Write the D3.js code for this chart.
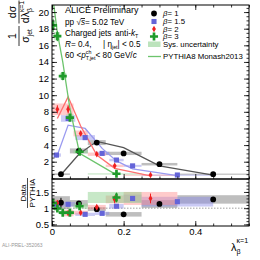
<!DOCTYPE html>
<html>
<head>
<meta charset="utf-8">
<script src="https://cdn.jsdelivr.net/npm/d3@7"></script>
<style>
body { margin: 0; background: #fff; }
svg { display: block; font-family: "Liberation Sans", Arial, sans-serif; }
</style>
</head>
<body>
<div id="chart"></div>
<script>
// values
const xTicks = [0, 0.2, 0.4];
const yTicks = [2, 4, 6, 8, 10, 12, 14, 16, 18, 20];
const ratioTicks = [0.5, 1, 1.5];

// beta = 1
const b1Lambda = [0.025, 0.075, 0.125, 0.2, 0.3, 0.45];
const b1Edges = [0, 0.05, 0.1, 0.15, 0.25, 0.35, 0.55];
const b1Value = [0.5, 3.3, 4.3, 3.0, 1.7, 0.5];
const b1Sys = [0.1, 0.3, 0.3, 0.2, 0.15, 0.07];
const b1Pythia = [0.43, 2.9, 4.45, 3.7, 1.5, 0.39];
const b1Ratio = [1.17, 1.15, 0.97, 0.81, 1.13, 1.27];
const b1RatioSys = [0.2, 0.1, 0.06, 0.07, 0.12, 0.13];
const b1RatioStat = [0.15, 0.05, 0.04, 0.03, 0.04, 0.06];

// beta = 1.5
const b15Lambda = [0.0125, 0.045, 0.0925, 0.14, 0.18, 0.225, 0.35];
const b15Edges = [0, 0.025, 0.065, 0.12, 0.16, 0.2, 0.25, 0.45];
const b15Value = [2.8, 7.2, 4.9, 3.0, 2.2, 1.5, 0.4];
const b15Sys = [0.2, 0.4, 0.3, 0.2, 0.15, 0.12, 0.05];
const b15Pythia = [2.5, 6.4, 6.0, 3.6, 2.1, 1.15, 0.33];
const b15Ratio = [1.12, 1.12, 0.81, 0.84, 1.06, 1.3, 1.2];
const b15RatioSys = [0.1, 0.07, 0.05, 0.05, 0.07, 0.12, 0.15];
const b15RatioStat = [0.04, 0.03, 0.02, 0.02, 0.03, 0.04, 0.05];

// beta = 2
const b2Lambda = [0.015, 0.045, 0.08, 0.125, 0.175, 0.275];
const b2Edges = [0, 0.03, 0.06, 0.1, 0.15, 0.2, 0.35];
const b2Value = [8.3, 8.3, 5.4, 2.9, 1.5, 0.4];
const b2Sys = [0.7, 0.7, 0.35, 0.2, 0.15, 0.05];
const b2Pythia = [7.2, 9.8, 6.3, 2.8, 1.2, 0.3];
const b2Ratio = [1.16, 0.85, 0.86, 1.03, 1.27, 1.3];
const b2RatioSys = [0.1, 0.1, 0.06, 0.07, 0.12, 0.2];
const b2RatioStat = [0.08, 0.05, 0.04, 0.07, 0.12, 0.15];

// beta = 3
const b3Lambda = [0.003, 0.015, 0.03, 0.05, 0.077, 0.18];
const b3Edges = [0, 0.006, 0.022, 0.04, 0.06, 0.1, 0.25];
const b3Value = [18.4, 17.1, 12.3, 7.3, 3.2, 0.55];
const b3Sys = [0.5, 0.5, 0.4, 0.4, 0.2, 0.05];
const b3Stat = [0.8, 0.6, 0.5, 0.3, 0.2, 0.05];
const b3Pythia = [21.5, 17.5, 14.0, 8.4, 3.0, 0.41];
const b3Ratio = [1.16, 0.99, 0.86, 0.86, 1.06, 1.33];
const b3RatioSys = [0.08, 0.07, 0.06, 0.06, 0.08, 0.17];
const b3RatioStat = [0.05, 0.04, 0.03, 0.03, 0.05, 0.15];

const series = [
  { label: "1", lam: b1Lambda, edges: b1Edges, val: b1Value, sys: b1Sys, stat: b1Sys.map(() => 0), py: b1Pythia, r: b1Ratio, rSys: b1RatioSys, rStat: b1RatioStat,
    mark: d3.symbolCircle, size: 26, color: "#000", line: "#555", box: "#888", boxOp: 0.55 },
  { label: "1.5", lam: b15Lambda, edges: b15Edges, val: b15Value, sys: b15Sys, stat: b15Sys.map(() => 0), py: b15Pythia, r: b15Ratio, rSys: b15RatioSys, rStat: b15RatioStat,
    mark: d3.symbolSquare, size: 26, color: "#6464d8", line: "#9a9af0", box: "#8a8ae6", boxOp: 0.45 },
  { label: "2", lam: b2Lambda, edges: b2Edges, val: b2Value, sys: b2Sys, stat: b2Sys.map(v => v * 0.7), py: b2Pythia, r: b2Ratio, rSys: b2RatioSys, rStat: b2RatioStat,
    mark: d3.symbolDiamond, size: 13, color: "#f02020", line: "#ff7070", box: "#ff8c8c", boxOp: 0.45 },
  { label: "3", lam: b3Lambda, edges: b3Edges, val: b3Value, sys: b3Sys, stat: b3Stat, py: b3Pythia, r: b3Ratio, rSys: b3RatioSys, rStat: b3RatioStat,
    mark: d3.symbolCross, size: 36, color: "#1f9a2a", line: "#6cc46c", box: "#8fd18f", boxOp: 0.5 }
];

const W = 260, H = 260;
const padL = 52, padR = 249, padT = 5, padMid = 179, padB = 226;

const x = d3.scaleLinear().domain([0, 0.55]).range([padL, padR]);
const y = d3.scaleLinear().domain([-0.08, 20.85]).range([padMid, padT]);
const yr = d3.scaleLinear().domain([0.45, 1.9]).range([padB, padMid]);

const svg = d3.select("#chart").append("svg").attr("width", W).attr("height", H);

const defs = svg.append("defs");
defs.append("clipPath").attr("id", "clipMain").append("rect")
  .attr("x", padL).attr("y", padT).attr("width", padR - padL).attr("height", padMid - padT);
defs.append("clipPath").attr("id", "clipRatio").append("rect")
  .attr("x", padL).attr("y", padMid).attr("width", padR - padL).attr("height", padB - padMid);

//rich text helper: pieces laid out one after another, "hold" keeps the x for stacked sup/sub
function rich(g, px, py, parts, fs, anchor) {
  const grp = g.append("g");
  let cx = 0, pending = 0;
  parts.forEach(p => {
    const t = grp.append("text")
      .attr("x", cx)
      .attr("y", (p.dy || 0) * fs)
      .attr("font-size", fs * (p.s || 1))
      .text(p.t);
    if (p.it) t.attr("font-style", "italic");
    if (p.over) t.attr("text-decoration", "overline");
    const w = t.node().getComputedTextLength();
    if (p.hold) pending = Math.max(pending, w);
    else { cx += Math.max(w, pending); pending = 0; }
  });
  const shift = anchor === "middle" ? -cx / 2 : anchor === "end" ? -cx : 0;
  grp.attr("transform", `translate(${px + shift},${py})`);
  return cx;
}

// ---------- main panel ----------
const main = svg.append("g").attr("clip-path", "url(#clipMain)");

series.forEach(s => {
  main.append("g").selectAll("rect").data(s.val).join("rect")
    .attr("x", (d, i) => x(s.edges[i]))
    .attr("width", (d, i) => x(s.edges[i + 1]) - x(s.edges[i]))
    .attr("y", (d, i) => y(d + s.sys[i]))
    .attr("height", (d, i) => Math.max(1.2, y(d - s.sys[i]) - y(d + s.sys[i])))
    .attr("fill", s.box).attr("fill-opacity", s.boxOp);
});

const line = d3.line().x(d => x(d[0])).y(d => y(d[1]));
series.forEach(s => {
  main.append("path")
    .datum(s.lam.map((l, i) => [l, s.py[i]]))
    .attr("d", line)
    .attr("fill", "none")
    .attr("stroke", s.line)
    .attr("stroke-width", 1.3);
});

series.forEach(s => {
  main.append("g").selectAll("line").data(s.val).join("line")
    .attr("x1", (d, i) => x(s.lam[i])).attr("x2", (d, i) => x(s.lam[i]))
    .attr("y1", (d, i) => y(d + s.stat[i])).attr("y2", (d, i) => y(d - s.stat[i]))
    .attr("stroke", s.color).attr("stroke-width", 1);
  main.append("g").selectAll("path").data(s.val).join("path")
    .attr("d", d3.symbol().type(s.mark).size(s.size))
    .attr("transform", (d, i) => `translate(${x(s.lam[i])},${y(d)})`)
    .attr("fill", s.color);
});

// ---------- ratio panel ----------
const ratio = svg.append("g").attr("clip-path", "url(#clipRatio)");

ratio.append("line")
  .attr("x1", padL).attr("x2", padR).attr("y1", yr(1)).attr("y2", yr(1))
  .attr("stroke", "#888").attr("stroke-width", 0.8).attr("stroke-dasharray", "1.5,1.5");

series.forEach(s => {
  ratio.append("g").selectAll("rect").data(s.r).join("rect")
    .attr("x", (d, i) => x(s.edges[i]))
    .attr("width", (d, i) => x(s.edges[i + 1]) - x(s.edges[i]))
    .attr("y", (d, i) => yr(d + s.rSys[i]))
    .attr("height", (d, i) => yr(d - s.rSys[i]) - yr(d + s.rSys[i]))
    .attr("fill", s.box).attr("fill-opacity", s.boxOp);
});

series.forEach(s => {
  ratio.append("g").selectAll("line").data(s.r).join("line")
    .attr("x1", (d, i) => x(s.lam[i])).attr("x2", (d, i) => x(s.lam[i]))
    .attr("y1", (d, i) => yr(d + s.rStat[i])).attr("y2", (d, i) => yr(d - s.rStat[i]))
    .attr("stroke", s.color).attr("stroke-width", 1);
  ratio.append("g").selectAll("path").data(s.r).join("path")
    .attr("d", d3.symbol().type(s.mark).size(s.size))
    .attr("transform", (d, i) => `translate(${x(s.lam[i])},${yr(d)})`)
    .attr("fill", s.color);
});

// ---------- axes ----------
const fsTick = 9.5;
function styleAxis(g) {
  g.select(".domain").remove();
  g.selectAll("line").attr("stroke", "#000").attr("stroke-width", 0.8);
  g.selectAll("text").attr("font-size", fsTick).attr("font-family", "Liberation Sans, Arial, sans-serif").attr("fill", "#000");
}

const yMinor = d3.range(0, 20.8, 0.5);
const xMinor = d3.range(0, 0.551, 0.05).map(v => +v.toFixed(2));
const rMinor = d3.range(0.5, 1.9, 0.1).map(v => +v.toFixed(2));

// main y
svg.append("g").attr("transform", `translate(${padL},0)`)
  .call(d3.axisLeft(y).tickValues(yTicks).tickSize(-5).tickPadding(3)).call(styleAxis);
svg.append("g").attr("transform", `translate(${padL},0)`)
  .call(d3.axisLeft(y).tickValues(yMinor).tickSize(-2.5).tickFormat("")).call(styleAxis);
svg.append("g").attr("transform", `translate(${padR},0)`)
  .call(d3.axisRight(y).tickValues(yTicks).tickSize(-5).tickFormat("")).call(styleAxis);
svg.append("g").attr("transform", `translate(${padR},0)`)
  .call(d3.axisRight(y).tickValues(yMinor).tickSize(-2.5).tickFormat("")).call(styleAxis);

// ratio y
svg.append("g").attr("transform", `translate(${padL},0)`)
  .call(d3.axisLeft(yr).tickValues(ratioTicks).tickSize(-5).tickPadding(3).tickFormat(d3.format("~g"))).call(styleAxis);
svg.append("g").attr("transform", `translate(${padL},0)`)
  .call(d3.axisLeft(yr).tickValues(rMinor).tickSize(-2.5).tickFormat("")).call(styleAxis);
svg.append("g").attr("transform", `translate(${padR},0)`)
  .call(d3.axisRight(yr).tickValues(ratioTicks).tickSize(-5).tickFormat("")).call(styleAxis);
svg.append("g").attr("transform", `translate(${padR},0)`)
  .call(d3.axisRight(yr).tickValues(rMinor).tickSize(-2.5).tickFormat("")).call(styleAxis);

// x ticks on the bottom of both panels and top of main
[padMid, padB].forEach((yy, k) => {
  svg.append("g").attr("transform", `translate(0,${yy})`)
    .call(d3.axisBottom(x).tickValues(xTicks).tickSize(-5).tickPadding(2)
      .tickFormat(k === 1 ? d3.format("~g") : "")).call(styleAxis);
  svg.append("g").attr("transform", `translate(0,${yy})`)
    .call(d3.axisBottom(x).tickValues(xMinor).tickSize(-2.5).tickFormat("")).call(styleAxis);
});
svg.append("g").attr("transform", `translate(0,${padT})`)
  .call(d3.axisTop(x).tickValues(xTicks).tickSize(-5).tickFormat("")).call(styleAxis);
svg.append("g").attr("transform", `translate(0,${padT})`)
  .call(d3.axisTop(x).tickValues(xMinor).tickSize(-2.5).tickFormat("")).call(styleAxis);

// frames
svg.append("rect").attr("x", padL).attr("y", padT).attr("width", padR - padL).attr("height", padMid - padT)
  .attr("fill", "none").attr("stroke", "#000").attr("stroke-width", 1);
svg.append("rect").attr("x", padL).attr("y", padMid).attr("width", padR - padL).attr("height", padB - padMid)
  .attr("fill", "none").attr("stroke", "#000").attr("stroke-width", 1);

// ---------- titles ----------
const yTitle = svg.append("g").attr("transform", "rotate(-90)");
const fsT = 10.5;
yTitle.append("text").attr("x", -36).attr("y", 16).attr("text-anchor", "middle").attr("font-size", fsT).text("1");
yTitle.append("line").attr("x1", -46).attr("x2", -26).attr("y1", 19).attr("y2", 19).attr("stroke", "#000").attr("stroke-width", 0.8);
rich(yTitle, -36, 28.5, [{ t: "σ" }, { t: "jet", s: 0.65, dy: 0.3 }], fsT, "middle");
rich(yTitle, -12, 16, [{ t: "d" }, { t: "σ" }], fsT, "middle");
yTitle.append("line").attr("x1", -23.5).attr("x2", -0.5).attr("y1", 19).attr("y2", 19).attr("stroke", "#000").attr("stroke-width", 0.8);
rich(yTitle, -12, 28.5, [{ t: "d" }, { t: "λ" }, { t: "κ=1", s: 0.65, dy: -0.45, hold: true }, { t: "β", s: 0.65, dy: 0.3 }], fsT, "middle");

const rTitle = svg.append("g").attr("transform", "rotate(-90)");
rTitle.append("text").attr("x", -193).attr("y", 26).attr("text-anchor", "middle").attr("font-size", 8).text("Data");
rTitle.append("line").attr("x1", -208).attr("x2", -178).attr("y1", 27.5).attr("y2", 27.5).attr("stroke", "#000").attr("stroke-width", 0.7);
rTitle.append("text").attr("x", -193).attr("y", 35).attr("text-anchor", "middle").attr("font-size", 8).text("PYTHIA");

rich(svg, 231, 251, [{ t: "λ" }, { t: "κ=1", s: 0.65, dy: -0.75, hold: true }, { t: "β", s: 0.65, dy: 0.3 }], 11);

svg.append("text").attr("x", 2).attr("y", 247).attr("font-size", 5).attr("fill", "#999").text("ALI-PREL-352063");

// ---------- info text ----------
const fsInfo = 8.2;
svg.append("text").attr("x", 65).attr("y", 13).attr("font-size", 9).text("ALICE Preliminary");
rich(svg, 65, 25, [{ t: "pp  √" }, { t: "s", it: true, over: true }, { t: " = 5.02 TeV" }], fsInfo);
svg.append("text").attr("x", 65).attr("y", 36).attr("font-size", fsInfo).text("Charged jets");
rich(svg, 115, 36, [{ t: "anti-" }, { t: "k", it: true }, { t: "T", s: 0.65, dy: 0.3 }], fsInfo);
rich(svg, 65, 47, [{ t: "R", it: true }, { t: " = 0.4," }], fsInfo);
rich(svg, 103, 47, [{ t: "| η" }, { t: "jet", s: 0.65, dy: 0.3 }, { t: " | < 0.5" }], fsInfo);
rich(svg, 65, 58, [{ t: "60 < " }, { t: "p", it: true }, { t: "ch", s: 0.65, dy: -0.45, hold: true }, { t: "T,jet", s: 0.65, dy: 0.3 }, { t: " < 80 GeV/" }, { t: "c", it: true }], fsInfo);

// ---------- legend ----------
const fsLeg = 7.8;
const legY = [13.5, 21.5, 29, 36.5];
series.forEach((s, i) => {
  svg.append("path")
    .attr("d", d3.symbol().type(s.mark).size(s.size))
    .attr("transform", `translate(154,${legY[i]})`)
    .attr("fill", s.color);
  rich(svg, 163, legY[i] + 2.7, [{ t: "β", it: true }, { t: " = " + s.label }], fsLeg);
});
svg.append("rect").attr("x", 148).attr("y", 41.5).attr("width", 12.5).attr("height", 5.5)
  .attr("fill", "#8fd18f").attr("fill-opacity", 0.6);
svg.append("text").attr("x", 163).attr("y", 47).attr("font-size", fsLeg).text("Sys. uncertainty");
svg.append("line").attr("x1", 148).attr("x2", 161).attr("y1", 56.5).attr("y2", 56.5)
  .attr("stroke", "#6cc46c").attr("stroke-width", 1.3);
svg.append("text").attr("x", 163).attr("y", 59.3).attr("font-size", fsLeg).text("PYTHIA8 Monash2013");
</script>
</body>
</html>
